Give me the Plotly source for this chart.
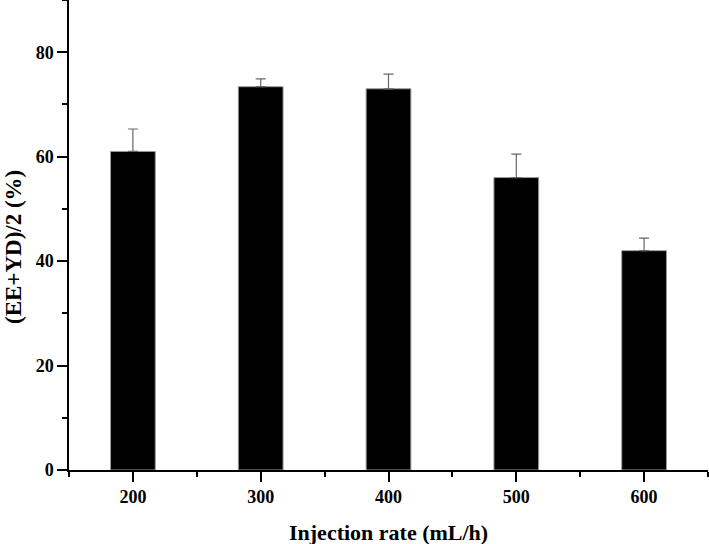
import plotly.graph_objects as go

rates = [200, 300, 400, 500, 600]
values = [61.0, 73.4, 73.0, 56.0, 42.0]
errors = [4.3, 1.5, 2.8, 4.5, 2.4]
x_ticks = [200, 300, 400, 500, 600]
y_ticks = [0, 20, 40, 60, 80]

FONT = "Liberation Serif, Times New Roman, serif"

fig = go.Figure()
fig.add_trace(go.Bar(
    x=rates, y=values, width=35,
    marker=dict(color="black", line=dict(color="#9a9a9a", width=1)),
    error_y=dict(type="data", array=errors, arrayminus=[0]*len(errors), symmetric=False,
                 color="#666666", thickness=1.2, width=5),
))

fig.update_layout(
    width=709, height=544,
    margin=dict(l=69, r=1, t=0, b=74),
    plot_bgcolor="white", paper_bgcolor="white",
    showlegend=False,
    font=dict(family=FONT, color="black"),
    xaxis=dict(
        range=[150, 650], tickvals=x_ticks, ticktext=[str(v) for v in x_ticks],
        ticks="outside", ticklen=10, tickwidth=1.5, tickcolor="black",
        showline=True, linecolor="black", linewidth=1.5, showgrid=False, zeroline=False,
        tickfont=dict(family=FONT, size=18, color="black", weight="bold"),
        minor=dict(tickvals=[150, 250, 350, 450, 550, 650], ticks="outside", ticklen=5,
                   tickwidth=1.5, tickcolor="black"),
    ),
    yaxis=dict(
        range=[0, 90], tickvals=y_ticks, ticktext=[str(v) for v in y_ticks],
        ticks="outside", ticklen=10, tickwidth=1.5, tickcolor="black",
        showline=True, linecolor="black", linewidth=1.5, showgrid=False, zeroline=False,
        tickfont=dict(family=FONT, size=18, color="black", weight="bold"),
        minor=dict(tickvals=[10, 30, 50, 70, 90], ticks="outside", ticklen=5,
                   tickwidth=1.5, tickcolor="black"),
    ),
    annotations=[
        dict(text="<b>Injection rate (mL/h)</b>", x=0.5, y=0, xref="paper", yref="paper",
             xanchor="center", yanchor="middle", yshift=-62, showarrow=False,
             font=dict(family=FONT, size=22, color="black")),
        dict(text="<b>(EE+YD)/2 (%)</b>", x=0, y=(470 - 247) / 470, xref="paper", yref="paper",
             xanchor="center", yanchor="middle", xshift=-56, textangle=-90, showarrow=False,
             font=dict(family=FONT, size=23, color="black")),
    ],
)

fig.write_html("out.html", config={"displayModeBar": False},
               post_script="document.body.style.margin='0';document.body.style.overflow='hidden';")
